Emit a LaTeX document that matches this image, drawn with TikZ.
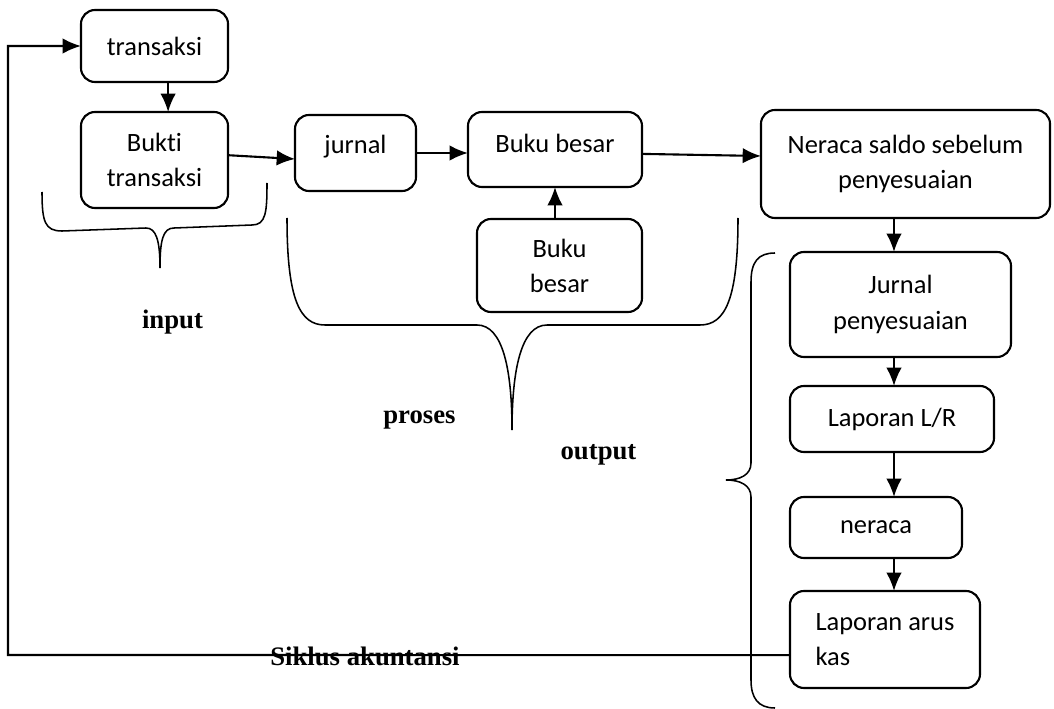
\documentclass[tikz,border=0pt]{standalone}
\usepackage{fontspec}
\setmainfont{Carlito}[Ligatures=NoCommon]
\newfontfamily\timesfont{Liberation Serif}
\usetikzlibrary{arrows.meta}
\tikzset{%
  >={Latex[length=13pt,width=11pt]}, % filled arrow heads
  inner sep=0pt,%
  outer sep=0pt,%
  stage/.style={draw,rounded corners=10pt,line width=1.5pt,align=center,
    font=\fontsize{18.8}{25}\selectfont},%
  brace/.style={line width=1.1pt},%
  part label/.style={font=\timesfont\bfseries\fontsize{19}{23}\selectfont}%
}

\begin{document}
\begin{tikzpicture}[x=0.025cm,y=-0.025cm,line width=1.5pt] % SIKLUS

\useasboundingbox (0,0) rectangle (1054,709);

% input
\node[stage,minimum width=3.675cm,minimum height=1.8cm] (trans) at (154.5,46) {transaksi};
\node[stage,minimum width=3.675cm,minimum height=2.4cm] (bukti) at (154.5,160) {Bukti\\transaksi};

% proses
\node[stage,minimum width=3.025cm,minimum height=1.9cm,text depth=0.43cm] (jurnal) at (355.5,153) {jurnal};
\node[stage,minimum width=4.35cm,minimum height=1.875cm,text depth=0.3cm] (besar) at (555,149.5) {Buku besar};
\node[stage,minimum width=4.125cm,minimum height=2.325cm] (besar2) at (559.5,265.5) {Buku\\besar};

% output
\node[stage,minimum width=7.225cm,minimum height=2.7cm] (nsaldo) at (905.5,164) {Neraca saldo sebelum\\penyesuaian};
\node[stage,minimum width=5.525cm,minimum height=2.625cm] (jpeny) at (900.5,304.5) {Jurnal\\penyesuaian};
\node[stage,minimum width=5.1cm,minimum height=1.65cm] (lr) at (892,419) {Laporan L/R};
\node[stage,minimum width=4.3cm,minimum height=1.525cm] (ner) at (876,527.5) {neraca};
\node[stage,minimum width=4.75cm,minimum height=2.425cm,align=left] (arus) at (885,639.5) {Laporan arus\\kas};

\coordinate (colx) at (894,0);
\coordinate (back) at (8,655);

\draw[->] ([xshift=0.34cm]trans.south) -- ([xshift=0.34cm]bukti.north);
\draw[->] ([yshift=0.12cm]bukti.east) -- ([yshift=-0.15cm]jurnal.west);
\draw[->] (jurnal.east) -- (jurnal.east -| besar.west);
\draw[->] (besar2.north -| besar.south) -- (besar.south);
\draw[->] ([yshift=-0.11cm]besar.east) -- ([yshift=0.2cm]nsaldo.west);
\foreach \a/\b in {nsaldo/jpeny,jpeny/lr,lr/ner,ner/arus}
  \draw[->] (\a.south -| colx) -- (\b.north -| colx);
\draw[->] ([yshift=-0.39cm]arus.west) -- (back) |- (trans.west);

% braces
\draw[brace] (42,192) .. controls (42,222) and (45,231) .. (62,231) -- (146,228)
  .. controls (156,228) and (160,240) .. (160,268)
  .. controls (160,240) and (163,228) .. (174,228) -- (252,225)
  .. controls (266,225) and (267,212) .. (267,183);
\draw[brace] (287,218) .. controls (287,300) and (300,325) .. (325,325) -- (477,325)
  .. controls (503,325) and (512,370) .. (512,430)
  .. controls (512,370) and (521,325) .. (547,325) -- (700,325)
  .. controls (725,325) and (738,300) .. (738,218);
\draw[brace] (775,253) .. controls (758,253) and (751,262) .. (751,282) -- (751,463)
  .. controls (751,475) and (740,480) .. (726,480)
  .. controls (740,480) and (751,485) .. (751,497) -- (751,680)
  .. controls (751,698) and (758,708) .. (775,708);

% labels
\node[part label] (lin) at (172.5,322) {input};
\node[part label] (lpro) at (419.5,420) {proses};
\node[part label] (lout) at (598.5,455) {output};
\node[part label] (lsik) at (365,656) {Siklus akuntansi};

\end{tikzpicture}
\end{document}
